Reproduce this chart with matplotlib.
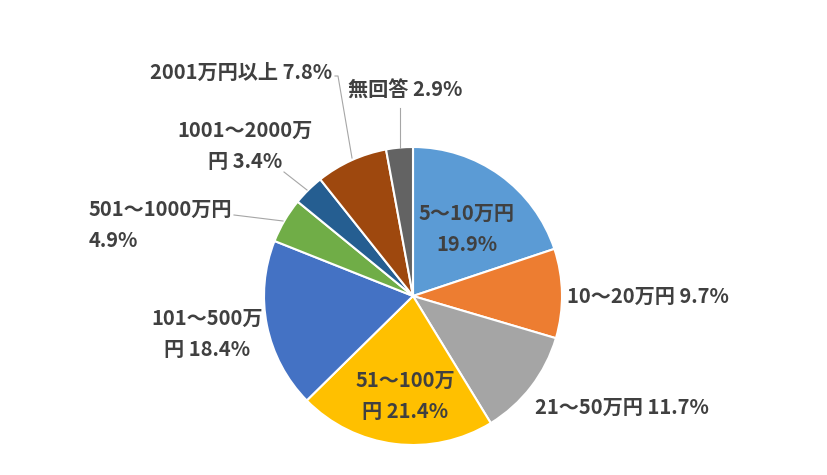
import matplotlib
matplotlib.use("Agg")
import matplotlib.pyplot as plt
import numpy as np

plt.rcParams['font.family'] = ['Noto Sans CJK JP', 'DejaVu Sans']

# データ
labels = ["5～10万円", "10～20万円", "21～50万円", "51～100万円", "101～500万円",
          "501～1000万円", "1001～2000万円", "2001万円以上", "無回答"]
shares = [19.9, 9.7, 11.7, 21.4, 18.4, 4.9, 3.4, 7.8, 2.9]
colors = ["#5B9BD5", "#ED7D31", "#A5A5A5", "#FFC000", "#4472C4",
          "#70AD47", "#255E91", "#9E480E", "#636363"]
label_text = ["5～10万円\n19.9%", "10～20万円 9.7%", "21～50万円 11.7%", "51～100万\n円 21.4%",
              "101～500万\n円 18.4%", "501～1000万円\n4.9%", "1001～2000万\n円 3.4%",
              "2001万円以上 7.8%", "無回答 2.9%"]

W, H = 827, 475
fig = plt.figure(figsize=(W / 100, H / 100), dpi=100)
cx, cy, r = 413, 296, 149
ax = fig.add_axes([(cx - r) / W, (H - cy - r) / H, 2 * r / W, 2 * r / H])

wedges, _ = ax.pie(shares, colors=colors, startangle=90, counterclock=False, radius=1,
                   wedgeprops=dict(edgecolor='white', linewidth=1.5))
ax.set_xlim(-1, 1)
ax.set_ylim(-1, 1)
ax.axis('off')

def px(x, y):
    # pixel -> data coords
    return ((x - cx) / r, (cy - y) / r)

tc = "#404040"
fs = 14.5
# label positions in pixels (center)
pos = [(467, 229), (648, 296), (622, 407), (405, 396), (207, 334),
       (160, 225), (245, 146), (241, 72), (405, 90)]
for t, (x, y) in zip(label_text, pos):
    dx, dy = px(x, y)
    ax.text(dx, dy, t, ha='center', va='center', fontsize=fs, color=tc,
            fontweight='bold', linespacing=1.55, clip_on=False,
            multialignment='left' if t.startswith("501") else 'center')

# leader lines
leaders = [
    [(335, 76), (338, 76), (352, 158)],
    [(400, 108), (400, 148)],
    [(284, 172), (307, 190)],
    [(234, 215), (283, 221)],
]
for pts in leaders:
    xs, ys = zip(*[px(a, b) for a, b in pts])
    ax.plot(xs, ys, color="#A6A6A6", lw=0.8, clip_on=False)

fig.savefig("out.png", dpi=100)
